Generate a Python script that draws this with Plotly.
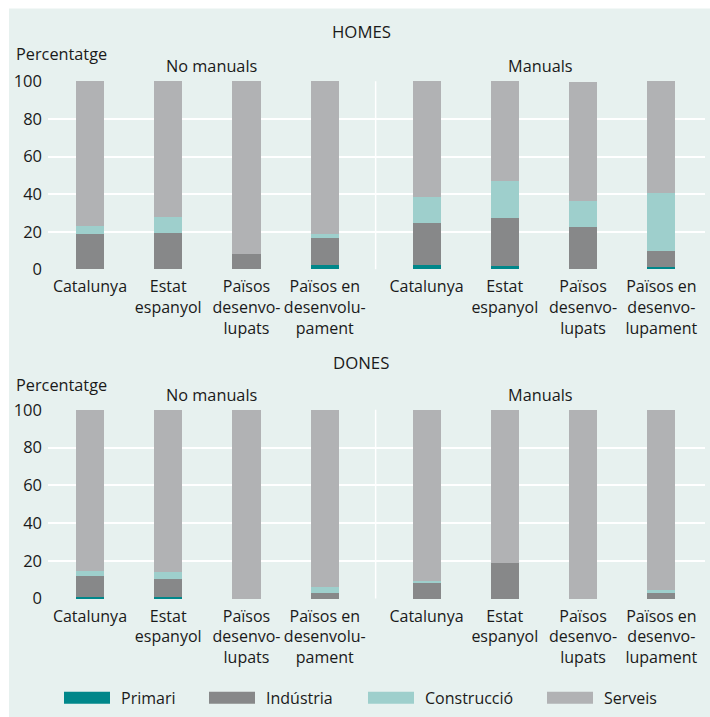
import plotly.graph_objects as go

# ---------------- data ----------------
group_labels = ["No manuals", "Manuals"]
labels_no_manuals = ["Catalunya", "Estat<br>espanyol", "Països<br>desenvo-<br>lupats", "Països en<br>desenvolu-<br>pament"]
labels_manuals = ["Catalunya", "Estat<br>espanyol", "Països<br>desenvo-<br>lupats", "Països en<br>desenvo-<br>lupament"]
panel_titles = ["HOMES", "DONES"]
y_title = "Percentatge"
y_ticks = [0, 20, 40, 60, 80, 100]
series_names = ["Primari", "Indústria", "Construcció", "Serveis"]

# HOMES: 4 no manuals + 4 manuals
homes_primari = [0, 0, 0, 2.1, 1.9, 1.8, 0, 1.2]
homes_industria = [18.4, 19.1, 7.8, 14.2, 22.8, 25.1, 22.1, 8.2]
homes_construccio = [4.7, 8.3, 0, 2.3, 13.8, 20.1, 13.8, 31.2]
homes_serveis = [76.9, 72.6, 92.2, 81.4, 61.5, 53.0, 63.6, 59.4]

# DONES
dones_primari = [1.1, 1.1, 0, 0, 0, 0, 0, 0]
dones_industria = [10.9, 9.3, 0, 3.0, 8.3, 18.9, 0, 3.0]
dones_construccio = [2.7, 3.7, 0, 3.2, 1.1, 0, 0, 1.6]
dones_serveis = [85.3, 85.9, 100, 93.8, 90.6, 81.1, 100, 95.4]

# ---------------- style ----------------
colors = ["#00878a", "#878889", "#9ecfcc", "#b1b2b4"]
bg = "#e7f1ef"
txt = "#1a1a1a"
FONT = "Open Sans"
W, H = 710, 717
# paper area as rendered (pixel origin and size)
PX0, PW, PY0, PH = 0.0, 710.0, 10.5, 695.5


def px_x(p):
    return (p - PX0) / PW


def px_y(p):
    return 1 - (p - PY0) / PH


group_gap = 0.3
n_per_group = len(labels_no_manuals)
xpos = [i for i in range(n_per_group)] + [i + n_per_group + group_gap for i in range(n_per_group)]
sep_x = (xpos[n_per_group - 1] + xpos[n_per_group]) / 2
tick_text = labels_no_manuals + labels_manuals

fig = go.Figure()

panels = [
    [homes_primari, homes_industria, homes_construccio, homes_serveis],
    [dones_primari, dones_industria, dones_construccio, dones_serveis],
]
for pi, panel in enumerate(panels):
    xa = "x" if pi == 0 else "x2"
    ya = "y" if pi == 0 else "y2"
    for si, vals in enumerate(panel):
        fig.add_trace(go.Bar(
            x=xpos, y=vals, name=series_names[si], width=0.358,
            marker=dict(color=colors[si], line=dict(width=0)),
            xaxis=xa, yaxis=ya, showlegend=False, hoverinfo="skip",
        ))

xdom = [px_x(48), px_x(705)]
xrange_ = [-0.536, 7.858]
common_x = dict(range=xrange_, domain=xdom, tickmode="array", tickvals=xpos, ticktext=tick_text,
                showgrid=False, zeroline=False, showline=False, ticks="", ticklabelstandoff=5,
                tickfont=dict(family=FONT, size=16, color=txt), fixedrange=True)
common_y = dict(range=[-0.5, 100.5], tickmode="array", tickvals=y_ticks,
                showgrid=True, gridcolor="white", gridwidth=1.5, zeroline=False, showline=False, ticks="",
                ticklabelstandoff=5,
                tickfont=dict(family=FONT, size=16.5, color=txt), fixedrange=True)

fig.update_layout(
    xaxis=dict(**common_x, anchor="y"),
    yaxis=dict(**common_y, domain=[px_y(269.6), px_y(79.8)], anchor="x"),
    xaxis2=dict(**common_x, anchor="y2"),
    yaxis2=dict(**common_y, domain=[px_y(598.6), px_y(408.1)], anchor="x2"),
)

shapes = [
    dict(type="rect", xref="paper", yref="paper", x0=px_x(9), x1=px_x(714), y0=px_y(722), y1=px_y(8),
         fillcolor=bg, line=dict(width=0), layer="below"),
]
for xa, ya in [("x", "y"), ("x2", "y2")]:
    shapes.append(dict(type="line", xref=xa, yref=ya, x0=sep_x, x1=sep_x, y0=0, y1=100,
                       line=dict(color="white", width=1.5), layer="below"))

annotations = []
title_y = [31, 361.7]
perc_y = [53, 384]
group_y = [65, 394]
for pi in range(2):
    annotations.append(dict(text=panel_titles[pi], x=px_x(361), y=px_y(title_y[pi]), xref="paper", yref="paper",
                            showarrow=False, xanchor="center", yanchor="middle",
                            font=dict(family=FONT, size=16.8, color=txt)))
    annotations.append(dict(text=y_title, x=px_x(14), y=px_y(perc_y[pi]), xref="paper", yref="paper",
                            showarrow=False, xanchor="left", yanchor="middle",
                            font=dict(family=FONT, size=16.3, color=txt)))
    for gi, gx in enumerate([212, 540.5]):
        annotations.append(dict(text=group_labels[gi], x=px_x(gx), y=px_y(group_y[pi]), xref="paper", yref="paper",
                                showarrow=False, xanchor="center", yanchor="middle",
                                font=dict(family=FONT, size=16.3, color=txt)))

# legend drawn manually
leg_sw_x = [64, 209, 368, 547]
leg_y = 696.7
for si, name in enumerate(series_names):
    x0 = leg_sw_x[si]
    shapes.append(dict(type="rect", xref="paper", yref="paper", x0=px_x(x0), x1=px_x(x0 + 46),
                       y0=px_y(leg_y + 6), y1=px_y(leg_y - 6), fillcolor=colors[si], line=dict(width=0)))
    annotations.append(dict(text=name, x=px_x(x0 + 55), y=px_y(leg_y), xref="paper", yref="paper",
                            showarrow=False, xanchor="left", yanchor="middle",
                            font=dict(family=FONT, size=16, color=txt)))

fig.update_layout(
    width=W, height=H, margin=dict(l=0, r=0, t=0, b=0),
    paper_bgcolor="white", plot_bgcolor="rgba(0,0,0,0)",
    barmode="stack", bargap=0, showlegend=False,
    shapes=shapes, annotations=annotations,
    font=dict(family=FONT, color=txt),
)

fig.write_html("out.html", config={"displayModeBar": False},
               post_script="document.body.style.margin='0px';document.body.style.overflow='hidden';")
